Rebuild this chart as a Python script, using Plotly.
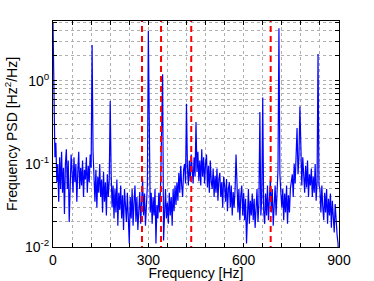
import numpy as np
import plotly.graph_objects as go

# Frequency grid (Hz), 3 Hz resolution
freq = list(range(0, 901, 3))

# PSD values [Hz^2/Hz], one row per 30 Hz
psd = [
    5.0, 0.35, 0.12, 0.18, 0.06, 0.1, 0.035, 0.12, 0.05, 0.14,
    0.045, 0.09, 0.025, 0.1, 0.15, 0.05, 0.11, 0.02, 0.07, 0.13,
    0.08, 0.045, 0.12, 0.06, 0.1, 0.035, 0.08, 0.14, 0.05, 0.09,
    0.055, 0.11, 0.04, 0.085, 0.065, 0.12, 0.045, 0.095, 0.06, 0.13,
    0.09, 2.7, 0.14, 0.055, 0.035, 0.085, 0.03, 0.07, 0.045, 0.1,
    0.04, 0.065, 0.026, 0.08, 0.035, 0.06, 0.024, 0.075, 0.04, 0.065,
    0.57, 0.075, 0.03, 0.055, 0.022, 0.05, 0.026, 0.065, 0.018, 0.045,
    0.028, 0.055, 0.022, 0.042, 0.016, 0.05, 0.026, 0.02, 0.045, 0.024,
    0.011, 0.04, 0.022, 0.05, 0.018, 0.035, 0.055, 0.02, 0.04, 0.016,
    0.028, 0.046, 0.019, 0.038, 0.065, 0.024, 0.044, 0.018, 0.036, 0.055,
    4.0, 0.065, 0.026, 0.045, 0.019, 0.04, 0.024, 0.05, 0.011, 0.032,
    0.022, 0.045, 0.026, 0.065, 0.3, 1.2, 0.012, 0.038, 0.05, 0.022,
    0.034, 0.019, 0.045, 0.024, 0.04, 0.018, 0.05, 0.027, 0.055, 0.032,
    0.06, 0.036, 0.078, 0.045, 0.095, 0.055, 0.04, 0.085, 0.1, 0.058,
    0.53, 0.09, 0.055, 0.11, 0.062, 0.13, 0.075, 0.058, 0.12, 0.07,
    0.32, 0.08, 0.14, 0.062, 0.11, 0.055, 0.15, 0.07, 0.12, 0.058,
    0.1, 0.13, 0.052, 0.095, 0.045, 0.11, 0.062, 0.05, 0.088, 0.04,
    0.072, 0.045, 0.088, 0.036, 0.066, 0.078, 0.04, 0.06, 0.03, 0.07,
    0.055, 0.035, 0.066, 0.027, 0.05, 0.06, 0.03, 0.055, 0.024, 0.046,
    0.03, 0.05, 0.13, 0.036, 0.026, 0.05, 0.021, 0.042, 0.055, 0.024,
    0.045, 0.021, 0.038, 0.011, 0.027, 0.05, 0.019, 0.036, 0.024, 0.044,
    0.021, 0.038, 0.017, 0.033, 0.05, 0.02, 0.034, 0.42, 0.024, 0.038,
    0.63, 0.027, 0.019, 0.044, 0.024, 0.055, 0.021, 0.038, 0.065, 0.026,
    0.05, 0.018, 0.038, 0.055, 0.024, 0.05, 0.085, 4.3, 0.075, 0.045,
    0.03, 0.05, 0.021, 0.044, 0.026, 0.055, 0.019, 0.042, 0.026, 0.05,
    0.06, 0.075, 0.04, 0.1, 0.058, 0.11, 0.27, 0.075, 0.12, 0.49,
    0.1, 0.055, 0.12, 0.062, 0.045, 0.095, 0.052, 0.11, 0.04, 0.075,
    0.055, 0.088, 0.04, 0.07, 0.045, 0.1, 0.036, 0.06, 2.1, 0.055,
    0.05, 0.026, 0.055, 0.03, 0.021, 0.045, 0.026, 0.05, 0.019, 0.038,
    0.024, 0.044, 0.017, 0.036, 0.021, 0.015, 0.033, 0.019, 0.014, 0.011,
    0.005,
]

# Marker frequencies (red dashed lines)
markers = [280, 340, 435, 685]

x_tickvals = list(range(0, 901, 60))
x_ticktext = [str(v) if v % 300 == 0 else " " for v in x_tickvals]

y_tickvals = []
y_ticktext = []
for e in (-2, -1, 0):
    for m in range(1, 10):
        v = m * 10.0 ** e
        y_tickvals.append(v)
        y_ticktext.append(f"10<sup>{e}</sup>" if m == 1 else " ")

fig = go.Figure()
fig.add_trace(go.Scatter(x=freq, y=psd, mode="lines",
                         line=dict(color="#0000ff", width=1.2), showlegend=False))
for f in markers:
    fig.add_trace(go.Scatter(x=[f, f], y=[0.005, 10], mode="lines",
                             line=dict(color="#ff0000", width=2, dash="6px,4px"),
                             showlegend=False))

axis_common = dict(showline=True, linecolor="black", linewidth=1, mirror="ticks",
                   ticks="inside", ticklen=4, tickcolor="black", automargin=False,
                   showgrid=True, gridcolor="#b0b0b0", griddash="dot", gridwidth=1,
                   zeroline=False, tickfont=dict(size=14, color="black"))

fig.update_xaxes(range=[0, 900], tickvals=x_tickvals, ticktext=x_ticktext,
                 title=dict(text="Frequency [Hz]", font=dict(size=14, color="black"), standoff=2),
                 **axis_common)
fig.update_yaxes(type="log", range=[-2, 0.72], tickvals=y_tickvals, ticktext=y_ticktext,
                 title=dict(text="Frequency PSD [Hz<sup>2</sup>/Hz]", font=dict(size=14, color="black"), standoff=4),
                 **axis_common)

fig.update_layout(width=374, height=281, margin=dict(l=53, r=35, t=21, b=34),
                  paper_bgcolor="white", plot_bgcolor="white",
                  font=dict(family="Liberation Sans, Arial, sans-serif", size=14, color="black"))

fig.write_html("out.html", config={"displayModeBar": False},
               post_script="document.body.style.margin='0';document.body.style.padding='0';")
